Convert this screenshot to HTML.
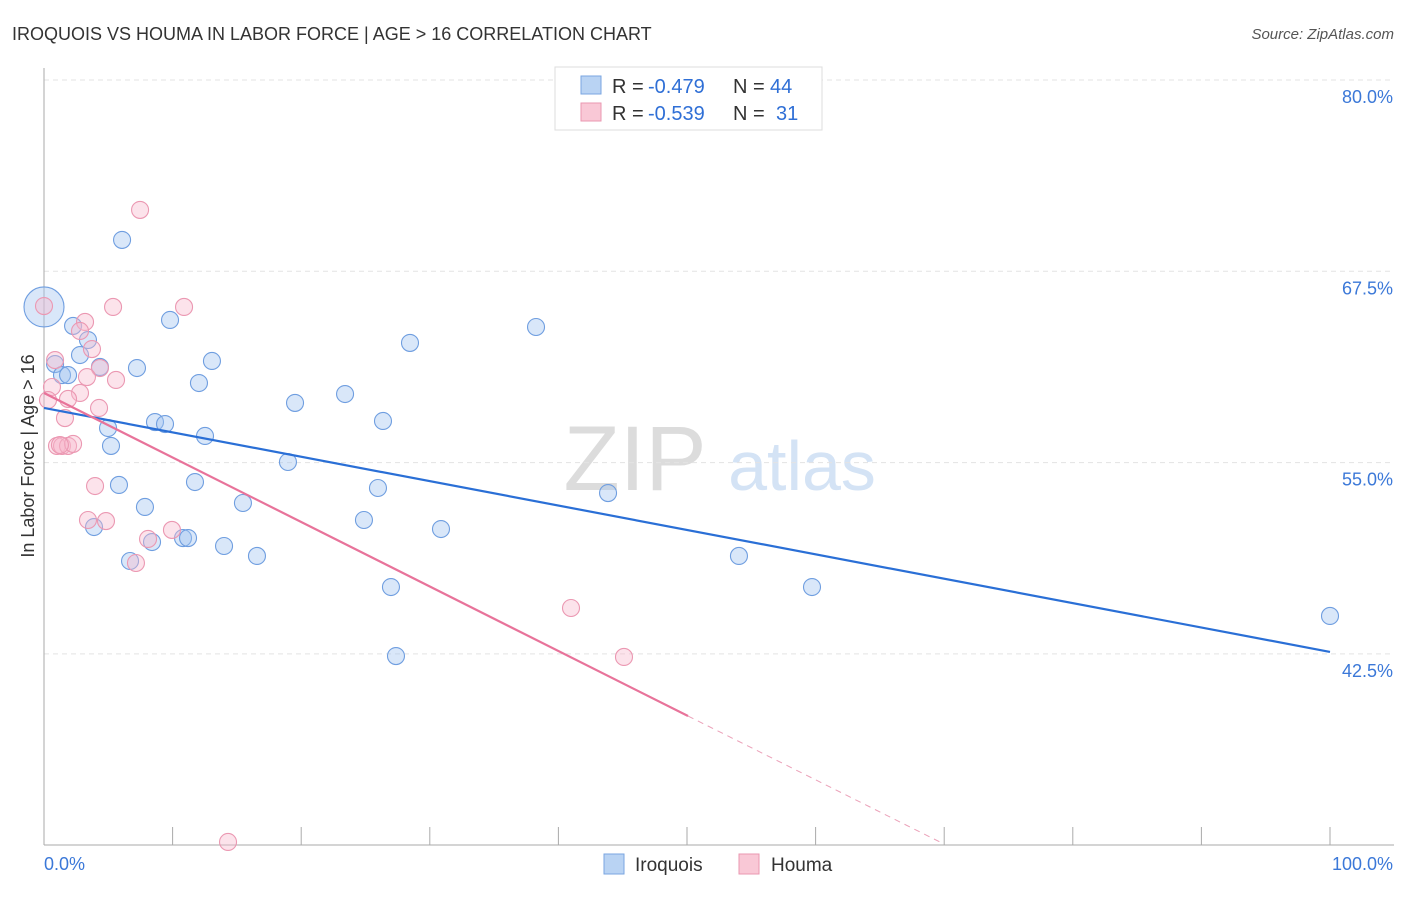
<!DOCTYPE html>
<html><head><meta charset="utf-8"><style>
body{margin:0;background:#fff;font-family:"Liberation Sans",sans-serif}
svg text{font-family:"Liberation Sans",sans-serif}
</style></head><body>
<svg width="1406" height="892" viewBox="0 0 1406 892">
<text x="12" y="40" font-size="18" fill="#333">IROQUOIS VS HOUMA IN LABOR FORCE | AGE &gt; 16 CORRELATION CHART</text>
<text x="1394" y="39" font-size="15" fill="#555" font-style="italic" text-anchor="end">Source: ZipAtlas.com</text>
<g>
<text x="635" y="490" font-size="92" fill="#dcdcdc" font-family="Liberation Serif" text-anchor="middle">ZIP</text>
<text x="802" y="490" font-size="70" fill="#d4e3f5" text-anchor="middle">atlas</text>
</g>
<g id="grid"></g>
<g id="axes"></g>
<text transform="translate(34,456) rotate(-90)" font-size="18" fill="#333" text-anchor="middle">In Labor Force | Age &gt; 16</text>
<g id="pts"></g>
<g id="lines"></g>
<g>
<rect x="555" y="67" width="267" height="63" fill="#fff" stroke="#ddd"/>
<rect x="581" y="76" width="20" height="18" fill="#b9d3f3" stroke="#7aa6e0"/>
<rect x="581" y="103" width="20" height="18" fill="#f9c8d6" stroke="#ea97b0"/>
<text x="612" y="93" font-size="20" fill="#333">R =</text>
<text x="648" y="93" font-size="20" fill="#2f6fd6">-0.479</text>
<text x="733" y="93" font-size="20" fill="#333">N =</text>
<text x="770" y="93" font-size="20" fill="#2f6fd6">44</text>
<text x="612" y="120" font-size="20" fill="#333">R =</text>
<text x="648" y="120" font-size="20" fill="#2f6fd6">-0.539</text>
<text x="733" y="120" font-size="20" fill="#333">N =</text>
<text x="776" y="120" font-size="20" fill="#2f6fd6">31</text>
</g>
<g>
<rect x="604" y="854" width="20" height="20" fill="#b9d3f3" stroke="#7aa6e0"/>
<text x="635" y="871" font-size="19" fill="#333">Iroquois</text>
<rect x="739" y="854" width="20" height="20" fill="#f9c8d6" stroke="#ea97b0"/>
<text x="771" y="871" font-size="19" fill="#333">Houma</text>
</g>
</svg>
<script>
const yTicks=[80,67.5,55,42.5];
const yTickLabels=["80.0%","67.5%","55.0%","42.5%"];
const xTickLabels=["0.0%","100.0%"];
const iroX=[0,6.07,2.26,9.80,3.42,2.80,0.86,1.40,1.87,4.35,7.23,13.06,12.05,28.46,38.26,19.52,23.41,8.63,9.41,26.36,4.98,12.52,5.21,18.97,5.83,11.74,25.97,43.86,7.85,15.47,3.89,24.88,30.87,8.40,10.81,11.20,14.00,6.69,16.56,54.04,26.98,59.72,27.37,100];
const iroY=[65.17,69.55,63.93,64.32,63.01,62.03,61.44,60.72,60.72,61.25,61.18,61.64,60.20,62.82,63.86,58.90,59.48,57.65,57.52,57.72,57.26,56.74,56.09,55.04,53.54,53.73,53.34,53.01,52.10,52.36,50.79,51.25,50.66,49.81,50.07,50.07,49.55,48.57,48.90,48.90,46.87,46.87,42.36,44.98];
const houX=[0,7.47,5.37,10.89,3.19,2.80,3.73,0.86,4.35,3.34,5.60,0.62,2.80,1.87,4.28,1.63,1.01,1.40,1.87,2.26,1.24,0.31,3.97,3.42,4.82,8.09,9.95,7.15,40.98,45.10,14.31];
const houY=[65.23,71.51,65.17,65.17,64.19,63.60,62.42,61.70,61.18,60.59,60.40,59.94,59.55,59.16,58.57,57.91,56.09,56.09,56.09,56.22,56.15,59.09,53.47,51.25,51.18,50.01,50.60,48.44,45.50,42.30,30.21];
const iroTrend=[[0,58.57],[100,42.63]];
const houTrend=[[0,59.55],[50.08,38.44]];
const houDash=[[50.08,38.44],[69.67,30.21]];
const X=v=>44+v*12.86, Y=v=>80+(80-v)*191.3/12.5;
const NS="http://www.w3.org/2000/svg";
function mk(t,a,p){const e=document.createElementNS(NS,t);for(const k in a)e.setAttribute(k,a[k]);p.appendChild(e);return e;}
const grid=document.getElementById('grid'),axes=document.getElementById('axes');
yTicks.forEach((t,i)=>{
 const g=mk('line',{x1:44,x2:1394,y1:Y(t),y2:Y(t),stroke:'#e3e3e3','stroke-dasharray':'5,4'},grid);
 
 
 const l=mk('text',{x:1393,y:Y(t)+23,'font-size':18,fill:'#3b78d8','text-anchor':'end'},axes);
 l.textContent=yTickLabels[i];
 
 
});
mk('line',{x1:44,x2:44,y1:68,y2:845,stroke:'#aaa'},axes);
mk('line',{x1:44,x2:1394,y1:845,y2:845,stroke:'#aaa'},axes);
for(let i=0;i<=10;i++){const t=mk('line',{x1:X(i*10),x2:X(i*10),y1:827,y2:845,stroke:'#aaa'},axes);}
[[0,44,'start'],[1,1393,'end']].forEach(([i,x,a])=>{const l=mk('text',{x:x,y:870,'font-size':18,fill:'#3b78d8','text-anchor':a},axes);l.textContent=xTickLabels[i];});
const pts=document.getElementById('pts');


iroX.forEach((x,i)=>{const c=mk('circle',{cx:X(x),cy:Y(iroY[i]),r:i==0?20:8.5,fill:'rgba(160,196,240,0.4)',stroke:'#6f9ee0','stroke-width':1.1},pts);});
houX.forEach((x,i)=>{const c=mk('circle',{cx:X(x),cy:Y(houY[i]),r:8.5,fill:'rgba(248,184,204,0.4)',stroke:'#eb98b2','stroke-width':1.1},pts);});
const lines=document.getElementById('lines');
let e=mk('line',{x1:X(iroTrend[0][0]),y1:Y(iroTrend[0][1]),x2:X(iroTrend[1][0]),y2:Y(iroTrend[1][1]),stroke:'#2a6fd6','stroke-width':2.2},lines);


e=mk('line',{x1:X(houTrend[0][0]),y1:Y(houTrend[0][1]),x2:X(houTrend[1][0]),y2:Y(houTrend[1][1]),stroke:'#e8739a','stroke-width':2.2},lines);


e=mk('line',{x1:X(houDash[0][0]),y1:Y(houDash[0][1]),x2:X(houDash[1][0]),y2:Y(houDash[1][1]),stroke:'#eba0b8','stroke-width':1,'stroke-dasharray':'6,5'},lines);


</script>
</body></html>
